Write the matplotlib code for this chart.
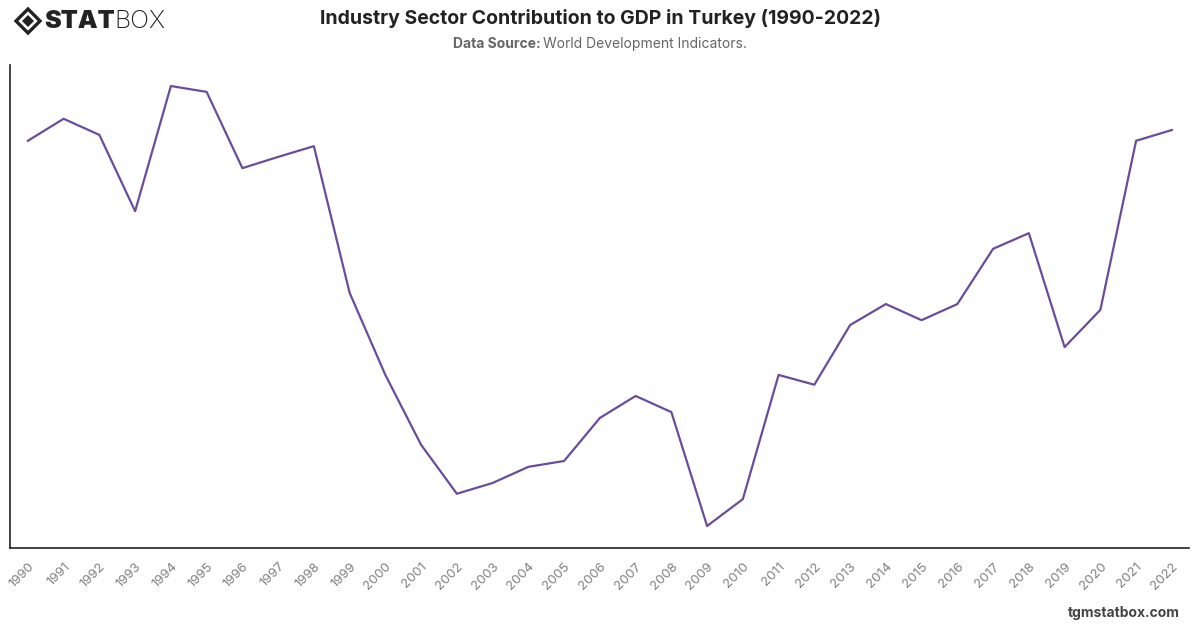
import numpy as np
import matplotlib.pyplot as plt
from matplotlib.patches import Polygon

plt.rcParams['font.family'] = ['Inter', 'DejaVu Sans']

# ---------------- Data (% of GDP) ----------------
years = list(range(1990, 2023))
industry_share = [
    32.38, 32.83, 32.50, 30.94, 33.50, 33.38, 31.82, 32.05, 32.27, 29.27,
    27.59, 26.16, 25.16, 25.38, 25.71, 25.83, 26.71, 27.16, 26.83, 24.50,
    25.05, 27.59, 27.39, 28.61, 29.04, 28.71, 29.04, 30.17, 30.49, 28.16,
    28.92, 32.38, 32.60,
]
year_labels = [str(y) for y in years]

LINE_COLOR = '#6a4c9c'
GREY = '#666666'

fig = plt.figure(figsize=(12, 6.28), dpi=100)
ax = fig.add_axes([10 / 1200, 1 - 548 / 628, 1179 / 1200, 483 / 628])

x = np.arange(len(years))
ax.plot(x, industry_share, color=LINE_COLOR, linewidth=1.6)

ax.set_xlim(-0.5, len(years) - 0.52)
ax.set_ylim(24.05, 33.93)
ax.set_yticks([])
ax.set_xticks(x)
ax.set_xticklabels(year_labels, rotation=45, ha='right', va='top',
                   rotation_mode='anchor', color='#808080', fontsize=9.5)
ax.tick_params(axis='x', length=0, pad=9)
for side in ['top', 'right']:
    ax.spines[side].set_visible(False)
for side in ['left', 'bottom']:
    ax.spines[side].set_color('#222222')
    ax.spines[side].set_linewidth(1.2)

# ---------------- Titles ----------------
fig.text(0.5, 1 - 18 / 628, 'Industry Sector Contribution to GDP in Turkey (1990-2022)',
         ha='center', va='center', fontsize=14, fontweight='bold', color='#222222')

# two-part subtitle, centred as a whole
src_y = 1 - 44 / 628
t1 = fig.text(0.5, src_y, 'Data Source: ', ha='left', va='center',
              fontsize=10, fontweight='bold', color=GREY)
t2 = fig.text(0.5, src_y, 'World Development Indicators.', ha='left', va='center',
              fontsize=10, color=GREY)
fig.canvas.draw()
r = fig.canvas.get_renderer()
w1 = t1.get_window_extent(r).width
w2 = t2.get_window_extent(r).width
left = 600 - (w1 + w2) / 2
t1.set_x(left / 1200)
t2.set_x((left + w1) / 1200)

# ---------------- Logo ----------------
cx, cy = 28 / 1200, 1 - 21 / 628


def diamond(half):
    return [[cx - half / 1200, cy], [cx, cy + half / 628],
            [cx + half / 1200, cy], [cx, cy - half / 628]]


outer = Polygon(diamond(12), closed=True, transform=fig.transFigure,
                fill=False, edgecolor='#222222', linewidth=2.4)
inner = Polygon(diamond(6), closed=True, transform=fig.transFigure,
                facecolor='#222222', edgecolor='none')
fig.patches.extend([outer, inner])
logo1 = fig.text(44 / 1200, cy, 'STAT', ha='left', va='center', fontsize=18,
                 fontweight='black', color='#222222')
fig.canvas.draw()
lw = logo1.get_window_extent(r).width
fig.text((44 + lw) / 1200, cy, 'BOX', ha='left', va='center', fontsize=18,
         fontweight='light', color='#222222')

# ---------------- Footer ----------------
fig.text(1180 / 1200, 1 - 613 / 628, 'tgmstatbox.com', ha='right', va='center',
         fontsize=10, fontweight='bold', color='#444444')

fig.savefig('out.png', dpi=100)
